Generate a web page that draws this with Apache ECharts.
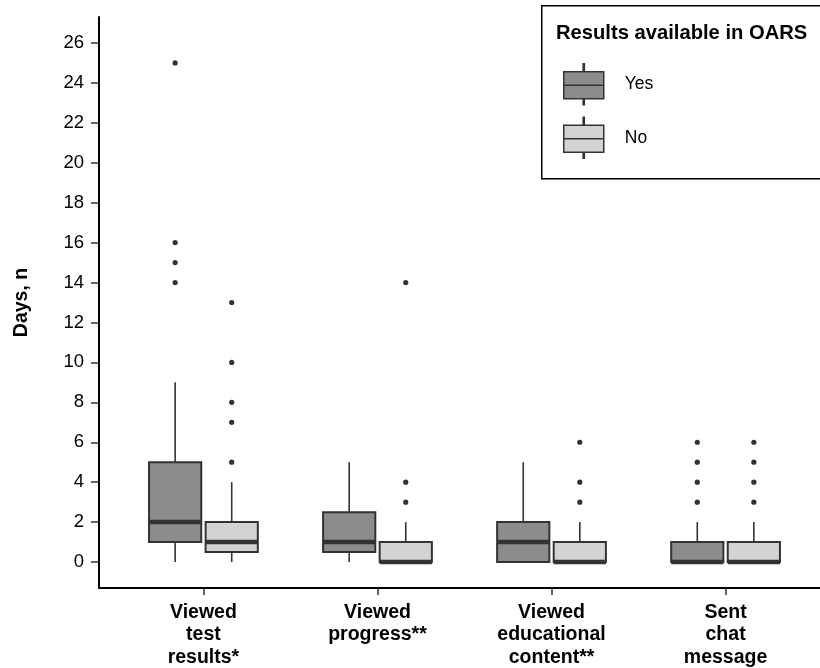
<!DOCTYPE html>
<html>
<head>
<meta charset="utf-8">
<script src="https://cdn.jsdelivr.net/npm/echarts@6/dist/echarts.min.js"></script>
<style>
html,body{margin:0;padding:0;background:#fff;}
#chart{width:820px;height:668px;}
</style>
</head>
<body>
<div id="chart"></div>
<script>
// ---- data ----
const categories = ['Viewed\ntest\nresults*', 'Viewed\nprogress**', 'Viewed\neducational\ncontent**', 'Sent\nchat\nmessage'];
const groupNames = ['Yes', 'No'];
const yTicks = [0, 2, 4, 6, 8, 10, 12, 14, 16, 18, 20, 22, 24, 26];

const yesMin    = [0, 0, 0, 0];
const yesQ1     = [1, 0.5, 0, 0];
const yesMedian = [2, 1, 1, 0];
const yesQ3     = [5, 2.5, 2, 1];
const yesMax    = [9, 5, 5, 2];
const yesOutliers = [[14, 15, 16, 25], [], [], [3, 4, 5, 6]];

const noMin    = [0, 0, 0, 0];
const noQ1     = [0.5, 0, 0, 0];
const noMedian = [1, 0, 0, 0];
const noQ3     = [2, 1, 1, 1];
const noMax    = [4, 2, 2, 2];
const noOutliers = [[5, 7, 8, 10, 13], [3, 4, 14], [3, 4, 6], [3, 4, 5, 6]];

// ---- styles ----
const FONT = '"Liberation Sans", Arial, sans-serif';
const YES_COLOR = '#8c8c8c';
const NO_COLOR = '#d3d3d3';
const DARK = '#333333';
const DODGE = 0.1625;
const BOX_W = 0.3;

function boxData(mins, q1s, meds, q3s, maxs) {
  return categories.map((c, i) => [i + 1, mins[i], q1s[i], meds[i], q3s[i], maxs[i]]);
}
function outlierData(list) {
  const out = [];
  list.forEach((vals, i) => vals.forEach(v => out.push([i + 1, v])));
  return out;
}

function boxRenderer(offset, fill) {
  return function (params, api) {
    const x = api.value(0) + offset;
    const lo = api.coord([x, api.value(1)]);
    const q1 = api.coord([x, api.value(2)]);
    const md = api.coord([x, api.value(3)]);
    const q3 = api.coord([x, api.value(4)]);
    const hi = api.coord([x, api.value(5)]);
    const w = api.size([BOX_W, 0])[0];
    return {
      type: 'group',
      children: [
        { type: 'line', shape: { x1: hi[0], y1: hi[1], x2: q3[0], y2: q3[1] }, style: { stroke: DARK, lineWidth: 1.6 } },
        { type: 'line', shape: { x1: lo[0], y1: lo[1], x2: q1[0], y2: q1[1] }, style: { stroke: DARK, lineWidth: 1.6 } },
        { type: 'rect', shape: { x: q3[0] - w / 2, y: q3[1], width: w, height: q1[1] - q3[1] }, style: { fill: fill, stroke: DARK, lineWidth: 2 } },
        { type: 'line', shape: { x1: md[0] - w / 2, y1: md[1], x2: md[0] + w / 2, y2: md[1] }, style: { stroke: DARK, lineWidth: 4.5 } }
      ]
    };
  };
}
function pointRenderer(offset) {
  return function (params, api) {
    const p = api.coord([api.value(0) + offset, api.value(1)]);
    return { type: 'circle', shape: { cx: p[0], cy: p[1], r: 2.6 }, style: { fill: DARK } };
  };
}

const keyIcon = 'path://M19.4,0 L20.6,0 L20.6,8 L19.4,8 Z M0,8 L40,8 L40,21.5 L0,21.5 Z M0,21.5 L40,21.5 L40,35 L0,35 Z M19.4,35 L20.6,35 L20.6,41 L19.4,41 Z';

const chart = echarts.init(document.getElementById('chart'), null, { renderer: 'canvas' });
chart.setOption({
  animation: false,
  backgroundColor: '#ffffff',
  textStyle: { fontFamily: FONT },
  graphic: [
    { type: 'rect', left: 541, top: 5, z: 0, silent: true,
      shape: { width: 320, height: 173 },
      style: { fill: '#fff', stroke: '#000', lineWidth: 1.5 } }
  ],
  title: {
    text: 'Results available in OARS',
    left: 556, top: 23, padding: 0,
    textStyle: { fontFamily: FONT, fontSize: 20.2, fontWeight: 'bold', color: '#000' }
  },
  legend: {
    orient: 'vertical',
    left: 541, top: 5,
    padding: [58, 20, 22, 22],
    itemWidth: 40, itemHeight: 41, itemGap: 11,
    selectedMode: false,
    textStyle: { fontFamily: FONT, fontSize: 17.5, color: '#000', padding: [0, 0, 0, 16] },
    data: [
      { name: 'Yes', icon: keyIcon, itemStyle: { color: YES_COLOR, borderColor: DARK, borderWidth: 1.5 } },
      { name: 'No', icon: keyIcon, itemStyle: { color: NO_COLOR, borderColor: DARK, borderWidth: 1.5 } }
    ]
  },
  grid: { left: 99, top: 17, width: 731, height: 571, containLabel: false, outerBoundsMode: 'none' },
  xAxis: {
    type: 'value', min: 0.4, max: 4.6,
    splitLine: { show: false },
    axisLine: { show: true, onZero: false, lineStyle: { color: '#000', width: 2 } },
    axisTick: { show: true, customValues: [1, 2, 3, 4], length: 7, lineStyle: { color: DARK, width: 1.5 } },
    axisLabel: {
      customValues: [1, 2, 3, 4],
      formatter: v => categories[Math.round(v) - 1],
      fontFamily: FONT, fontSize: 19.5, fontWeight: 'bold', color: '#000',
      lineHeight: 22.5, margin: 13, align: 'center'
    }
  },
  yAxis: {
    type: 'value', min: -1.3, max: 27.3,
    name: 'Days, n', nameLocation: 'middle', nameGap: 67,
    nameTextStyle: { fontFamily: FONT, fontSize: 19.5, fontWeight: 'bold', color: '#000' },
    splitLine: { show: false },
    axisLine: { show: true, onZero: false, lineStyle: { color: '#000', width: 2 } },
    axisTick: { show: true, customValues: yTicks, length: 8, lineStyle: { color: DARK, width: 1.5 } },
    axisLabel: { customValues: yTicks, fontFamily: FONT, fontSize: 18.5, color: '#000', margin: 15 }
  },
  series: [
    {
      name: 'Yes', type: 'custom',
      renderItem: boxRenderer(-DODGE, YES_COLOR),
      itemStyle: { color: YES_COLOR, borderColor: DARK },
      encode: { x: 0, y: [1, 2, 3, 4, 5] },
      data: boxData(yesMin, yesQ1, yesMedian, yesQ3, yesMax)
    },
    {
      name: 'No', type: 'custom',
      renderItem: boxRenderer(DODGE, NO_COLOR),
      itemStyle: { color: NO_COLOR, borderColor: DARK },
      encode: { x: 0, y: [1, 2, 3, 4, 5] },
      data: boxData(noMin, noQ1, noMedian, noQ3, noMax)
    },
    {
      name: 'Yes outliers', type: 'custom',
      renderItem: pointRenderer(-DODGE),
      encode: { x: 0, y: 1 },
      data: outlierData(yesOutliers)
    },
    {
      name: 'No outliers', type: 'custom',
      renderItem: pointRenderer(DODGE),
      encode: { x: 0, y: 1 },
      data: outlierData(noOutliers)
    }
  ]
});
</script>
</body>
</html>
